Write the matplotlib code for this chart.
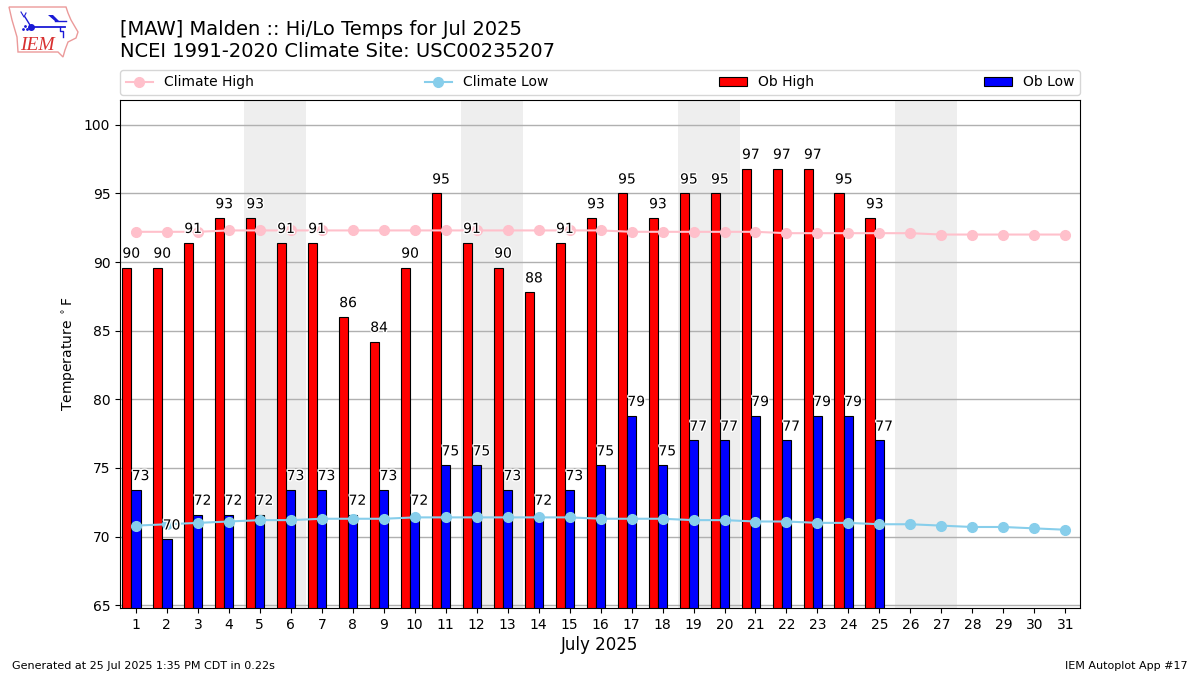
import matplotlib
matplotlib.use("Agg")
import numpy as np
import matplotlib.pyplot as plt
import matplotlib.patheffects as pe
from matplotlib.patches import Polygon

days = list(range(1, 32))
# bars only exist through the 25th
ob_high = [89.6, 89.6, 91.4, 93.2, 93.2, 91.4, 91.4, 86.0, 84.2, 89.6, 95.0, 91.4, 89.6,
           87.8, 91.4, 93.2, 95.0, 93.2, 95.0, 95.0, 96.8, 96.8, 96.8, 95.0, 93.2]
ob_low = [73.4, 69.8, 71.6, 71.6, 71.6, 73.4, 73.4, 71.6, 73.4, 71.6, 75.2, 75.2, 73.4,
          71.6, 73.4, 75.2, 78.8, 75.2, 77.0, 77.0, 78.8, 77.0, 78.8, 78.8, 77.0]
climate_high = [92.2, 92.2, 92.2, 92.3, 92.3, 92.3, 92.3, 92.3, 92.3, 92.3, 92.3, 92.3, 92.3,
                92.3, 92.3, 92.3, 92.2, 92.2, 92.2, 92.2, 92.2, 92.1, 92.1, 92.1, 92.1, 92.1,
                92.0, 92.0, 92.0, 92.0, 92.0]
climate_low = [70.8, 70.9, 71.0, 71.1, 71.2, 71.2, 71.3, 71.3, 71.3, 71.4, 71.4, 71.4, 71.4,
               71.4, 71.4, 71.3, 71.3, 71.3, 71.2, 71.2, 71.1, 71.1, 71.0, 71.0, 70.9, 70.9,
               70.8, 70.7, 70.7, 70.6, 70.5]
weekend_starts = [5, 12, 19, 26]
yticks = [65, 70, 75, 80, 85, 90, 95, 100]

W, H = 1200, 675
fig = plt.figure(figsize=(12, 6.75), dpi=100)
ax = fig.add_axes([120 / W, 1 - 608 / H, 960 / W, 508 / H])

for d in weekend_starts:
    ax.axvspan(d - 0.5, d + 1.5, color="#eeeeee", lw=0, zorder=0)
ax.grid(True, axis="y", color="#b0b0b0", lw=1, zorder=1)
ax.set_axisbelow(True)

x_obs = np.array(days[:25])
ax.bar(x_obs - 0.3, ob_high, width=0.3, color="red", edgecolor="black", lw=0.8, label="Ob High", zorder=2)
ax.bar(x_obs, ob_low, width=0.3, color="blue", edgecolor="black", lw=0.8, label="Ob Low", zorder=2)

ax.plot(days, climate_high, color="pink", marker="o", ms=7, lw=1.5, label="Climate High", zorder=3)
ax.plot(days, climate_low, color="skyblue", marker="o", ms=7, lw=1.5, label="Climate Low", zorder=3)

halo = [pe.withStroke(linewidth=2, foreground="white")]
for d, hi, lo in zip(x_obs, ob_high, ob_low):
    ax.text(d - 0.15, hi + 0.5, f"{hi:.0f}", ha="center", va="bottom", fontsize=10, path_effects=halo, zorder=4)
    ax.text(d + 0.15, lo + 0.5, f"{lo:.0f}", ha="center", va="bottom", fontsize=10, path_effects=halo, zorder=4)

ax.set_xlim(0.487, 31.475)
ax.set_ylim(64.8, 101.8)
ax.set_xticks(days)
ax.set_yticks(yticks)
ax.set_xlabel("July 2025", fontsize=12, labelpad=3)
ax.set_ylabel(r"Temperature $^\circ$F")

handles, labels = ax.get_legend_handles_labels()
order = [labels.index(n) for n in ["Climate High", "Climate Low", "Ob High", "Ob Low"]]
ax.legend([handles[i] for i in order], [labels[i] for i in order], ncol=4, mode="expand",
          loc="lower left", bbox_to_anchor=(0, 1.01, 1, 0.05), borderaxespad=0)

fig.text(120 / W, 1 - 61 / H, "[MAW] Malden :: Hi/Lo Temps for Jul 2025\nNCEI 1991-2020 Climate Site: USC00235207",
         fontsize=14, ha="left", va="bottom")
fig.text(12 / W, 1 - 671 / H, "Generated at 25 Jul 2025 1:35 PM CDT in 0.22s", fontsize=8, ha="left", va="bottom")
fig.text(1188 / W, 1 - 671 / H, "IEM Autoplot App #17", fontsize=8, ha="right", va="bottom")

# logo, drawn in pixel coordinates of the picture
logo = fig.add_axes([0, 1 - 60 / H, 85 / W, 60 / H])
logo.set_xlim(0, 85)
logo.set_ylim(60, 0)
logo.axis("off")
outline = [(9, 7), (66, 7), (68, 13), (71, 20), (78, 32), (76, 38), (68, 42), (65, 50), (63, 57),
           (58, 52), (18, 52), (17, 37), (12, 20)]
logo.add_patch(Polygon(outline, closed=True, fill=False, ec="#eb9a9a", lw=1))
blue = "#1a1ad6"
logo.plot([31, 65], [26.7, 26.7], color=blue, lw=1.3)
logo.plot([31, 25], [26.7, 17], color=blue, lw=1)
logo.plot([21, 24, 26], [12, 17, 13], color=blue, lw=0.8)
logo.plot([31], [26.7], "o", color=blue, ms=4)
logo.fill([48, 53, 59, 56], [15, 15, 21, 22], color=blue, lw=0)
logo.plot([55, 66], [21, 21], color=blue, lw=1)
logo.plot([60, 60, 63, 63], [27, 31, 31, 37], color=blue, lw=1)
logo.plot([23, 25, 27], [29, 26, 29], ".", color=blue, ms=2)
logo.text(37, 45, "IEM", family="Liberation Serif", style="italic", color="#d83030", fontsize=14,
          ha="center", va="center")

fig.savefig("out.png", dpi=100)
